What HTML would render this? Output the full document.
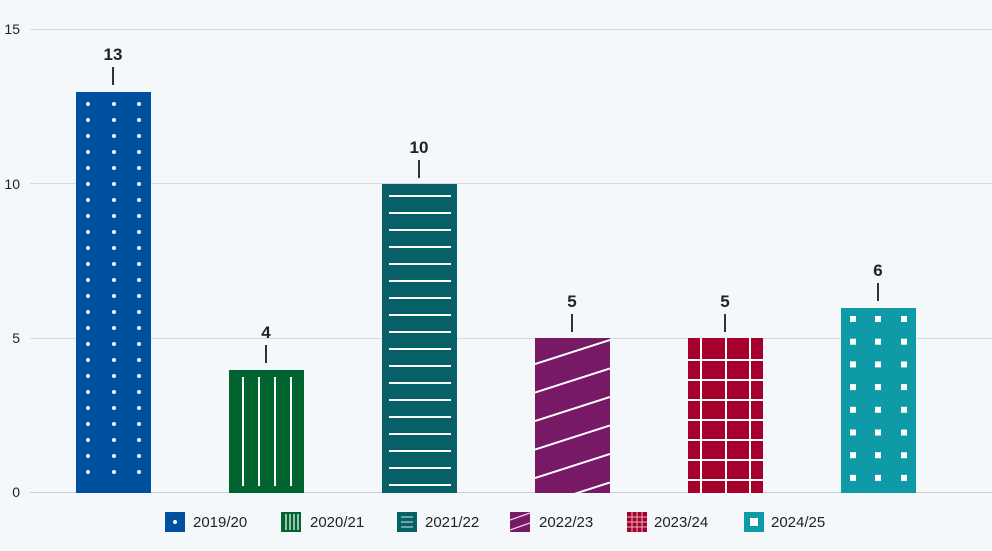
<!DOCTYPE html>
<html><head><meta charset="utf-8"><style>
html,body{margin:0;padding:0;background:#f5f8fb;}
svg{display:block;font-family:"Liberation Sans",sans-serif;}
</style></head><body>
<svg width="992" height="551" viewBox="0 0 992 551" xmlns="http://www.w3.org/2000/svg">
<rect width="992" height="551" fill="#f5f8fb"/>
<g stroke="#d5dae0" stroke-width="1">
<line x1="30" y1="29.5" x2="992" y2="29.5"/>
<line x1="30" y1="183.5" x2="992" y2="183.5"/>
<line x1="30" y1="338.5" x2="992" y2="338.5"/>
<line x1="30" y1="492.5" x2="992" y2="492.5" stroke="#c8ced6"/>
</g>
<g font-size="14" fill="#222" text-anchor="end">
<text x="20" y="34">15</text>
<text x="20" y="189">10</text>
<text x="20" y="343">5</text>
<text x="20" y="497">0</text>
</g>
<defs>
<clipPath id="c4"><rect x="535" y="338" width="75" height="155"/></clipPath>
</defs>
<rect x="76" y="92" width="75" height="401" fill="#0050a0"/>
<g fill="#fff" id="dots"></g>
<rect x="229" y="370" width="75" height="123" fill="#006330"/>
<g stroke="#fff" stroke-width="2">
<line x1="243" y1="377" x2="243" y2="486"/><line x1="259" y1="377" x2="259" y2="486"/>
<line x1="275" y1="377" x2="275" y2="486"/><line x1="291" y1="377" x2="291" y2="486"/>
</g>
<rect x="382" y="184" width="75" height="309" fill="#075f67"/>
<g stroke="#fff" stroke-width="2" id="h3"></g>
<rect x="535" y="338" width="75" height="155" fill="#771965"/>
<g stroke="#fff" stroke-width="2" clip-path="url(#c4)" id="d4"></g>
<rect x="688" y="338" width="75" height="155" fill="#a6002c"/>
<g stroke="#fff" stroke-width="2" id="g5"></g>
<rect x="841" y="308" width="75" height="185" fill="#0f9aa8"/>
<g fill="#fff" id="s6"></g>
<g font-size="17" font-weight="bold" fill="#222" text-anchor="middle">
<text x="113" y="60">13</text><text x="266" y="338">4</text><text x="419" y="153">10</text>
<text x="572" y="307">5</text><text x="725" y="307">5</text><text x="878" y="276">6</text>
</g>
<g stroke="#333" stroke-width="2">
<line x1="113" y1="67" x2="113" y2="85"/><line x1="266" y1="345" x2="266" y2="363"/>
<line x1="419" y1="160" x2="419" y2="178"/><line x1="572" y1="314" x2="572" y2="332"/>
<line x1="725" y1="314" x2="725" y2="332"/><line x1="878" y1="283" x2="878" y2="301"/>
</g>
<g font-size="15" fill="#222">
<rect x="165" y="512" width="20" height="20" fill="#0050a0"/><circle cx="175" cy="522" r="2" fill="#fff"/>
<text x="193" y="527">2019/20</text>
<rect x="281" y="512" width="20" height="20" fill="#006330"/>
<g stroke="#fff" stroke-width="1.2"><line x1="286" y1="514" x2="286" y2="530"/><line x1="290" y1="514" x2="290" y2="530"/><line x1="294" y1="514" x2="294" y2="530"/><line x1="298" y1="514" x2="298" y2="530"/></g>
<text x="310" y="527">2020/21</text>
<rect x="397" y="512" width="20" height="20" fill="#075f67"/>
<g stroke="#fff" stroke-width="1.2" opacity="0.7"><line x1="401" y1="517" x2="413" y2="517"/><line x1="401" y1="522" x2="413" y2="522"/><line x1="401" y1="527" x2="413" y2="527"/></g>
<text x="425" y="527">2021/22</text>
<rect x="510" y="512" width="20" height="20" fill="#771965"/>
<g stroke="#fff" stroke-width="1.2" opacity="0.8"><line x1="510" y1="520" x2="530" y2="513"/><line x1="510" y1="530" x2="530" y2="523"/></g>
<text x="539" y="527">2022/23</text>
<rect x="627" y="512" width="20" height="20" fill="#a6002c"/>
<g stroke="#fff" stroke-width="1" opacity="0.7"><line x1="632" y1="512" x2="632" y2="532"/><line x1="637" y1="512" x2="637" y2="532"/><line x1="642" y1="512" x2="642" y2="532"/><line x1="627" y1="517" x2="647" y2="517"/><line x1="627" y1="522" x2="647" y2="522"/><line x1="627" y1="527" x2="647" y2="527"/></g>
<text x="654" y="527">2023/24</text>
<rect x="744" y="512" width="20" height="20" fill="#0f9aa8"/><rect x="750" y="518" width="8" height="8" fill="#fff"/>
<text x="771" y="527">2024/25</text>
</g>
<script>
var ns="http://www.w3.org/2000/svg";
function el(p,t,a){var e=document.createElementNS(ns,t);for(var k in a)e.setAttribute(k,a[k]);document.getElementById(p).appendChild(e);}
for(var r=0;r<24;r++)[88,114,139].forEach(function(x){el("dots","circle",{cx:x,cy:104+r*16,r:2});});
for(var y=196;y<490;y+=17)el("h3","line",{x1:389,y1:y,x2:451,y2:y});
for(var i=-1;i<7;i++){var ry=340+i*28.5;el("d4","line",{x1:535,y1:ry+24,x2:610,y2:ry});}
[701,726,750].forEach(function(x){el("g5","line",{x1:x,y1:338,x2:x,y2:493});});
for(var y=360;y<=480;y+=20)el("g5","line",{x1:688,y1:y,x2:763,y2:y});
for(var r=0;r<8;r++)[853,878,904].forEach(function(x){el("s6","rect",{x:x-3,y:319+r*22.7-3,width:6,height:6});});
</script>
</svg>
</body></html>
